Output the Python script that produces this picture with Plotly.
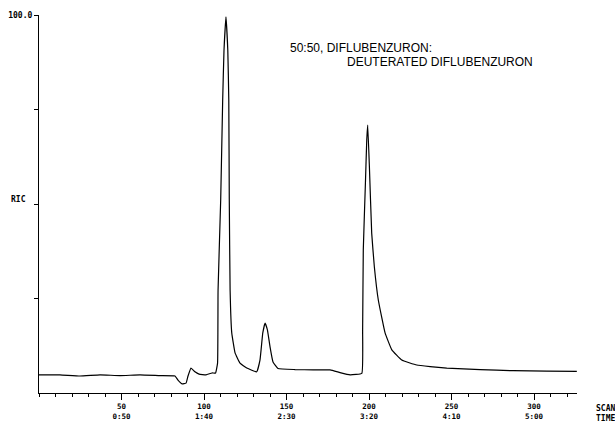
import plotly.graph_objects as go

# Reconstructed ion chromatogram (RIC), % of base peak vs. scan number
scan = [0, 12.7, 24.8, 37.0, 49.1, 61.2, 73.3, 82.4, 84.2, 86.7, 89.1, 90.3,
        92.1, 94.5, 97.0, 101.2, 104.8, 107.0, 108.2, 108.5, 110.1, 111.3,
        112.1, 113.3, 114.4, 115.0, 115.3, 115.8, 116.8, 118.8, 121.8, 125.9,
        131.9, 133.9, 135.6, 137.0, 138.4, 140.0, 141.8, 144.8, 155.2, 166.1,
        176.4, 182.4, 188.5, 195.6, 196.1, 196.5, 197.8, 198.6, 199.2, 200.2,
        201.6, 203.2, 205.6, 209.7, 213.8, 219.8, 228.9, 237.0, 247.1, 267.3,
        287.3, 307.7, 325.9]
ric = [4.8, 4.8, 4.5, 4.8, 4.6, 4.8, 4.6, 4.5, 3.4, 2.4, 2.6, 4.5,
       6.6, 5.6, 5.0, 4.8, 5.3, 5.3, 7.9, 27.2, 51.1, 77.5,
       90.7, 99.5, 90.7, 77.5, 51.1, 27.2, 15.9, 10.6, 7.9, 6.6,
       5.6, 8.7, 15.9, 18.5, 16.7, 12.2, 8.2, 6.5, 6.2, 6.1,
       6.1, 5.4, 4.8, 5.2, 16.7, 37.8, 55.6, 66.9, 70.9, 59.9,
       42.3, 33.4, 24.6, 15.9, 11.4, 8.7, 7.4, 7.0, 6.6, 6.2,
       5.9, 5.8, 5.7]

# Axis labelling: scan number over retention time (m:ss)
scan_ticks = [50, 100, 150, 200, 250, 300]
time_labels = ["0:50", "1:40", "2:30", "3:20", "4:10", "5:00"]
y_ticks = [25, 50, 75, 100]
y_labels = ["", "", "", "100.0"]

title_lines = ["50:50, DIFLUBENZURON:", "DEUTERATED DIFLUBENZURON"]

mono = dict(family="DejaVu Sans Mono", size=8, color="black", weight="bold")
mono_small = dict(family="DejaVu Sans Mono", size=7.5, color="black",
                  weight="bold")

fig = go.Figure()
fig.add_trace(go.Scatter(x=scan, y=ric, mode="lines",
                         line=dict(color="black", width=1.2, shape="spline",
                                   smoothing=0.3),
                         hoverinfo="skip", showlegend=False))

annotations = [
    dict(x=1, xref="paper", y=0, yref="paper", text="SCAN<br>TIME",
         showarrow=False, xanchor="left", yanchor="top", align="left",
         xshift=17, yshift=-9, font=mono),
    dict(x=0, xref="paper", y=50, yref="y", text="RIC",
         showarrow=False, xanchor="right", yanchor="middle",
         xshift=-11, yshift=5, font=mono),
]
# sample description
label_font = dict(family="Liberation Sans", size=12, color="black")
annotations.append(dict(x=0.462, xref="paper", y=0.9127, yref="paper",
                        text=title_lines[0], showarrow=False, xanchor="left",
                        yanchor="middle", font=label_font))
annotations.append(dict(x=0.5695, xref="paper", y=0.8757, yref="paper",
                        text=title_lines[1], showarrow=False, xanchor="left",
                        yanchor="middle", font=label_font))

fig.update_layout(
    width=615, height=424,
    margin=dict(l=39, r=38, t=15, b=31, pad=0, autoexpand=False),
    paper_bgcolor="white", plot_bgcolor="white",
    annotations=annotations,
    xaxis=dict(range=[0, 326], showgrid=False, zeroline=False,
               automargin=False,
               showline=True, linecolor="black", linewidth=1.2,
               tickmode="array", tickvals=scan_ticks,
               ticktext=[f"{s}<br>{t}" for s, t in zip(scan_ticks, time_labels)],
               ticks="outside", ticklen=6, tickwidth=1, tickcolor="black",
               tickfont=mono_small,
               minor=dict(tickmode="linear", tick0=0, dtick=10,
                          ticks="outside", ticklen=3, tickcolor="black",
                          tickwidth=1, showgrid=False)),
    yaxis=dict(range=[0, 100], showgrid=False, zeroline=False,
               automargin=False,
               showline=True, linecolor="black", linewidth=1.2,
               tickmode="array", tickvals=y_ticks, ticktext=y_labels,
               ticks="outside", ticklen=4, tickwidth=1, tickcolor="black",
               tickfont=mono),
)

fig.write_html("out.html")
